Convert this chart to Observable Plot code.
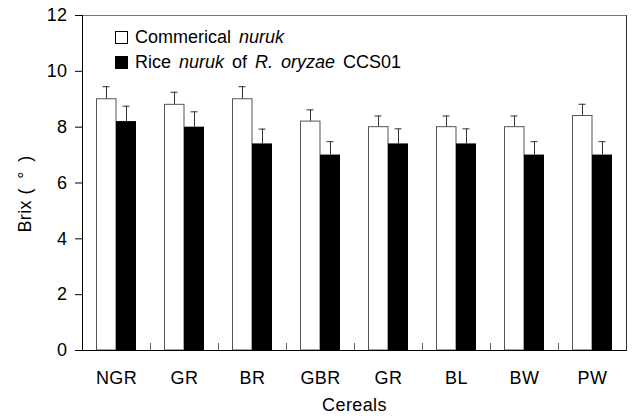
<!DOCTYPE html>
<html>
<head>
<meta charset="utf-8">
<script src="https://cdn.jsdelivr.net/npm/d3@7"></script>
<script src="https://cdn.jsdelivr.net/npm/@observablehq/plot@0.6"></script>
<style>
  html, body { margin: 0; padding: 0; background: white; }
  #wrap { position: relative; width: 634px; height: 418px; font-family: 'Liberation Sans', Arial, sans-serif; }
  #legend { position: absolute; left: 115px; top: 25px; font-size: 18px; word-spacing: 3px; color: #000; line-height: 25px; }
  #legend .row { display: flex; align-items: center; white-space: pre; }
  #legend .sw { width: 11px; height: 11px; border: 1px solid #000; box-sizing: content-box; margin-right: 7px; }
  #chart svg text { letter-spacing: 0.4px; }
</style>
</head>
<body>
<div id="wrap">
  <div id="chart"></div>
  <div id="legend">
    <div class="row"><span class="sw" style="background:#fff"></span><span>Commerical <i>nuruk</i></span></div>
    <div class="row"><span class="sw" style="background:#000"></span><span>Rice <i>nuruk</i> of <i>R. oryzae</i> CCS01</span></div>
  </div>
</div>
<script>
const categories = ["NGR", "GR", "BR", "GBR", "GR", "BL", "BW", "PW"];
const commercial = [9.0, 8.8, 9.0, 8.2, 8.0, 8.0, 8.0, 8.4];
const commercialErr = [0.45, 0.45, 0.45, 0.42, 0.40, 0.40, 0.40, 0.42];
const riceNuruk = [8.2, 8.0, 7.4, 7.0, 7.4, 7.4, 7.0, 7.0];
const riceErr = [0.55, 0.55, 0.53, 0.48, 0.54, 0.54, 0.48, 0.48];
const yTicks = [0, 2, 4, 6, 8, 10, 12];

const keys = categories.map((c, i) => i);
const dataW = keys.map(i => ({key: i, value: commercial[i], err: commercialErr[i]}));
const dataB = keys.map(i => ({key: i, value: riceNuruk[i], err: riceErr[i]}));
const inner = keys.slice(1);

const chart = Plot.plot({
  width: 634,
  height: 418,
  marginLeft: 82,
  marginRight: 8,
  marginTop: 15,
  marginBottom: 68,
  style: {fontFamily: "'Liberation Sans', Arial, sans-serif", fontSize: "18px", color: "#000", background: "white"},
  x: {type: "band", domain: keys, padding: 0},
  y: {domain: [0, 12]},
  marks: [
    Plot.frame({stroke: "#777"}),
    Plot.frame({anchor: "right", stroke: "#333"}),
    Plot.frame({anchor: "left", stroke: "#000"}),
    Plot.ruleX(dataW, {x: "key", y1: "value", y2: d => d.value + d.err, dx: -10, stroke: "#333"}),
    Plot.tickY(dataW, {x: "key", y: d => d.value + d.err, insetLeft: 20.5, insetRight: 40.5, stroke: "#333"}),
    Plot.ruleX(dataB, {x: "key", y1: "value", y2: d => d.value + d.err, dx: 10, stroke: "#333"}),
    Plot.tickY(dataB, {x: "key", y: d => d.value + d.err, insetLeft: 40.5, insetRight: 20.5, stroke: "#333"}),
    Plot.barY(dataW, {x: "key", y: "value", fill: "white", stroke: "#555", insetLeft: 14.5, insetRight: 34}),
    Plot.barY(dataB, {x: "key", y: "value", fill: "black", insetLeft: 34, insetRight: 14}),
    Plot.ruleX(inner, {x: d => d, y1: 0, y2: 0.25, dx: -34, stroke: "#666"}),
    Plot.ruleY([0], {stroke: "#000"}),
    Plot.axisY({ticks: yTicks, tickSize: 7, tickPadding: 8, label: null, fontSize: 18}),
    Plot.axisX({tickSize: 0, tickPadding: 21, tickFormat: i => categories[i], label: null, fontSize: 18}),
    Plot.text(["Brix (\u2002\u00B0\u2002)"], {text: d => d, frameAnchor: "left", textAnchor: "middle", rotate: -90, dx: -57, dy: 11, fontSize: 18}),
    Plot.text(["Cereals"], {text: d => d, frameAnchor: "bottom", dy: 60, fontSize: 18})
  ]
});
document.getElementById("chart").appendChild(chart);
</script>
</body>
</html>
